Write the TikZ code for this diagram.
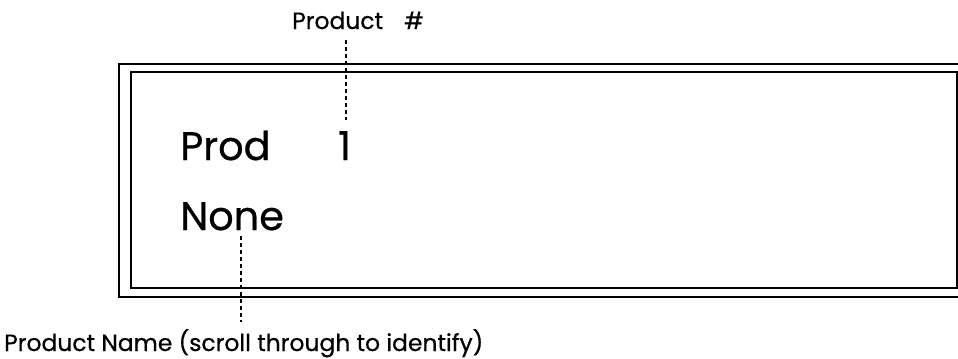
\documentclass[tikz,border=0pt]{standalone}
\usepackage{fontspec}
\setmainfont{Poppins}[FakeBold=0.6]
\usepackage{tikz}
\usetikzlibrary{calc}

\begin{document}
\begin{tikzpicture}[x=0.03cm,y=-0.03cm,
  lbl/.style={inner sep=0pt,anchor=base west,font=\fontsize{20}{22}\selectfont},
  lcd/.style={inner sep=0pt,anchor=base west,font=\fontsize{34}{38}\selectfont},
  frame/.style={line width=1.3pt},
  lead/.style={dashed,dash pattern=on 3.5pt off 2.5pt,line width=1pt}]
  \useasboundingbox (0,0) rectangle (958,358);
  % display frame, cut off at the right edge
  \begin{scope}
    \clip (0,0) rectangle (958,358);
    \draw[frame] (119,64) rectangle (975,297);
    \draw[frame] (131,72) rectangle (957,288);
  \end{scope}
  % display text
  \node[lcd] (prod) at (180,160) {Prod};
  \node[lcd] (num) at (338,160) {1};
  \node[lcd] (name) at (180,230) {None};
  % labels
  \node[lbl] (pnum) at (292,29) {Product\hspace{0.9em}\#};
  \node[lbl] (pname) at (4,351) {Product Name (scroll through to identify)};
  \coordinate (a) at (346,40);
  \coordinate (b) at (346,120);
  \coordinate (c) at (241,236);
  \coordinate (d) at (241,322);
  \draw[lead] (a)--(b);
  \draw[lead] (c)--(d);
\end{tikzpicture}
\end{document}
